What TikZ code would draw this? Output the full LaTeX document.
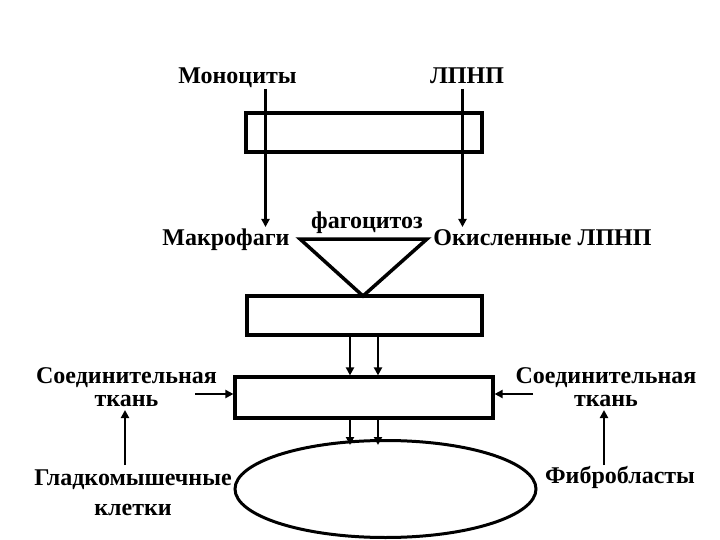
\documentclass[tikz,border=0pt]{standalone}
\usepackage{fontspec}
\setmainfont{Liberation Serif}
\usetikzlibrary{shapes.geometric,arrows.meta}
\begin{document}
\begin{tikzpicture}[x=1pt,y=-1pt,
  lbl/.style={font=\fontsize{24}{25}\selectfont\bfseries, inner sep=0pt, anchor=base},
  box/.style={draw, line width=3.2pt, inner sep=0pt},
  arr/.style={line width=2.5pt, -{Triangle[length=8pt,width=8pt]}}]
\useasboundingbox (0,0) rectangle (720,540);
% texts
\node[lbl] (mono) at (237.5,84) {Моноциты};
\node[lbl] (ldl) at (467,84) {ЛПНП};
\node[lbl] (makro) at (226,245) {Макрофаги};
\node[lbl] (phago) at (367,229) {фагоцитоз};
\node[lbl] (oxldl) at (542.5,245) {Окисленные ЛПНП};
\node[lbl] (ctLa) at (126.5,383) {Соединительная};
\node[lbl] (ctLb) at (126.5,406) {ткань};
\node[lbl] (ctRa) at (606,383) {Соединительная};
\node[lbl] (ctRb) at (606,406) {ткань};
\node[lbl] (smca) at (133,485) {Гладкомышечные};
\node[lbl] (smcb) at (133,515) {клетки};
\node[lbl] (fib) at (620,483) {Фибробласты};
% boxes
\node[box, minimum width=236pt, minimum height=39pt] (r1) at (364,132.5) {};
\node[box, minimum width=235pt, minimum height=39pt] (r2) at (364.5,315.5) {};
\node[box, minimum width=258pt, minimum height=41pt] (r3) at (364,397.5) {};
\node[draw, ellipse, line width=3pt, minimum width=301pt, minimum height=97pt, inner sep=0pt] (ell) at (385.5,489) {};
% triangle
\coordinate (tA) at (300,239);
\coordinate (tB) at (427,239);
\coordinate (tC) at (363,296);
\draw[line width=3.5pt, line join=miter] (tA) -- (tB) -- (tC) -- cycle;
% vertical connectors through top box
\coordinate (m1) at (265.5,89);
\coordinate (m2) at (265.5,227);
\coordinate (l1) at (462.5,89);
\coordinate (l2) at (462.5,227);
\draw[arr] (m1) -- (m2);
\draw[arr] (l1) -- (l2);
% r2 -> r3
\draw[arr] (r2.south -| 350,0) -- (r3.north -| 350,0);
\draw[arr] (r2.south -| 378,0) -- (r3.north -| 378,0);
% r3 -> ellipse
\coordinate (e1) at (350,445);
\coordinate (e2) at (378,445);
\draw[arr] (r3.south -| 350,0) -- (e1);
\draw[arr] (r3.south -| 378,0) -- (e2);
% side arrows
\coordinate (sl) at (195,394);
\coordinate (sr) at (533,394);
\draw[arr] (sl) -- (r3.west |- sl);
\draw[arr] (sr) -- (r3.east |- sr);
% up arrows
\coordinate (ul1) at (125,465);
\coordinate (ul2) at (125,410);
\coordinate (ur1) at (604,465);
\coordinate (ur2) at (604,410);
\draw[arr] (ul1) -- (ul2);
\draw[arr] (ur1) -- (ur2);
\end{tikzpicture}
\end{document}
